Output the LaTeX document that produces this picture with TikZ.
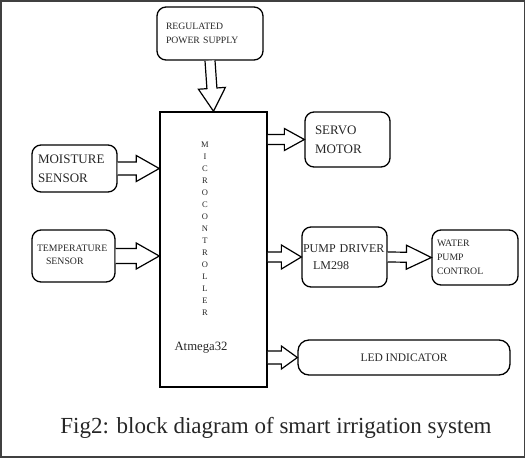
\documentclass[tikz,border=0pt]{standalone}
\usepackage{fontspec}
\setmainfont{Liberation Serif}
\usetikzlibrary{calc}

\definecolor{ink}{gray}{0.15}
\def\fs#1{\fontsize{#1}{\fpeval{1.45*#1}}\selectfont}
\def\letters{M,I,C,R,O,C,O,N,T,R,O,L,L,E,R}

% hollow block arrow: from, to, shaft half width, head half width, head length
\newcommand\blockarrow[5]{%
  \draw[arrowline] let \p1=(#1), \p2=(#2), \n1={atan2(\y2-\y1,\x2-\x1)} in
    ($(\p1)+(\n1+90:#3pt)$) -- ($(\p2)+(\n1+180:#5pt)+(\n1+90:#3pt)$)
    -- ($(\p2)+(\n1+180:#5pt)+(\n1+90:#4pt)$) -- (\p2)
    -- ($(\p2)+(\n1+180:#5pt)+(\n1-90:#4pt)$)
    -- ($(\p2)+(\n1+180:#5pt)+(\n1-90:#3pt)$) -- ($(\p1)+(\n1-90:#3pt)$);}

\begin{document}
\begin{tikzpicture}[x=1pt,y=-1pt,
    block/.style={draw, line width=1.3pt, rounded corners=9pt, align=left,
      inner ysep=0pt, text=ink},
    arrowline/.style={draw, line width=1.2pt, fill=white, line join=miter},
    letter/.style={font=\fs{8.5}, text=ink, inner sep=0pt}]
  \useasboundingbox (0,0) rectangle (526,458);
  \draw[line width=1.5pt, black!75] (0.75,0.75) rectangle (524.5,457.2);

  % blocks
  \node[block, font=\fs{9.7}, text width=88pt, inner xsep=9pt, minimum height=53pt]
    (power) at (210,33.5) {REGULATED\\POWER SUPPLY};
  \node[block, rounded corners=0pt, line width=1.5pt, minimum width=107pt, minimum height=275pt]
    (mcu) at (213.5,249.5) {};
  \node[block, font=\fs{13}, text width=73pt, inner xsep=6pt, minimum height=47pt]
    (moist) at (74.5,168.5) {MOISTURE\\SENSOR};
  \node[block, font=\fontsize{9.8}{13.5}\selectfont, text width=73pt, inner xsep=5pt,
    minimum height=52pt, text depth=16pt] (temp) at (73.5,256)
    {TEMPERATURE\\\hspace*{9pt}SENSOR};
  \node[block, font=\fs{13}, text width=65pt, inner xsep=10pt, minimum height=55pt]
    (servo) at (347.5,139.5) {SERVO\\MOTOR};
  \node[block, font=\fs{12}, text width=83pt, inner xsep=1pt, minimum height=60pt]
    (pump) at (344.5,257) {PUMP DRIVER\\\hspace*{10pt}LM298};
  \node[block, font=\fs{9.8}, text width=76pt, inner xsep=5pt, minimum height=55pt]
    (water) at (475,257.5) {WATER\\PUMP\\CONTROL};
  \node[block, font=\fs{11.5}, align=center, rounded corners=11pt, minimum width=212pt,
    minimum height=35pt] (led) at (404,357.5) {LED INDICATOR};

  % text inside the controller
  \foreach \l [count=\i] in \letters
    \node[letter] (mc\i) at (205,{133+12*\i}) {\l};
  \node[font=\fs{12.7}, text=ink] (chip) at (201,348) {Atmega32};

  % connectors
  \blockarrow{power.south}{mcu.north}{5}{13.5}{23}
  \blockarrow{moist.east}{mcu.west |- moist.east}{6.5}{13}{23}
  \blockarrow{temp.east}{mcu.west |- temp.east}{7.5}{13}{23}
  \blockarrow{mcu.east |- servo.west}{servo.west}{5}{11}{20}
  \blockarrow{mcu.east |- pump.west}{pump.west}{5}{12}{20}
  \blockarrow{pump.east}{water.west}{5}{12}{25}
  \blockarrow{mcu.east |- led.west}{led.west}{6.5}{11.5}{16}

  \node[font=\fs{23}, text=ink] (caption) at (276,428)
    {Fig2: block diagram of smart irrigation system};
\end{tikzpicture}
\end{document}
